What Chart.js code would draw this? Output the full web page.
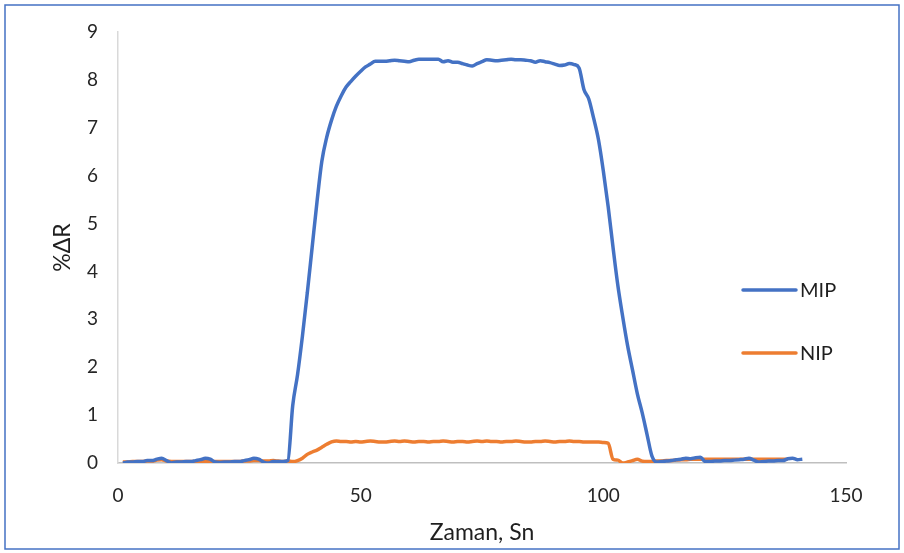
<!DOCTYPE html>
<html>
<head>
<meta charset="utf-8">
<script src="https://cdn.jsdelivr.net/npm/chart.js@4.4.0/dist/chart.umd.min.js"></script>
<style>
html,body{margin:0;padding:0;background:#fff;}
#wrap{position:relative;width:904px;height:553px;}
</style>
</head>
<body>
<div id="wrap"><canvas id="c" width="904" height="553"></canvas></div>
<script>
const seriesNames = ["MIP", "NIP"];
const xTickValues = [0, 50, 100, 150];
const yTickValues = [0, 1, 2, 3, 4, 5, 6, 7, 8, 9];

const mipTime = [];
for (let t = 1; t <= 141; t++) mipTime.push(t);
const nipTime = [];
for (let t = 1; t <= 138; t++) nipTime.push(t);

const mipValues = [
  0.00,0.02,0.02,0.03,0.03,0.05,0.05,0.08,0.10,0.05,
  0.00,0.02,0.02,0.03,0.03,0.05,0.07,0.10,0.08,0.02,
  0.01,0.02,0.02,0.03,0.03,0.05,0.07,0.10,0.08,0.02,
  0.00,0.03,0.03,0.03,0.05,1.20,1.85,2.65,3.55,4.50,
  5.45,6.30,6.80,7.16,7.45,7.67,7.85,7.97,8.08,8.18,
  8.27,8.33,8.39,8.39,8.39,8.40,8.41,8.40,8.39,8.38,
  8.41,8.43,8.43,8.43,8.43,8.43,8.38,8.40,8.37,8.37,
  8.34,8.31,8.29,8.34,8.38,8.42,8.41,8.40,8.41,8.42,
  8.43,8.42,8.42,8.41,8.40,8.37,8.40,8.38,8.36,8.33,
  8.30,8.31,8.34,8.32,8.25,7.80,7.60,7.20,6.75,6.10,
  5.35,4.50,3.70,3.05,2.45,1.95,1.45,1.05,0.60,0.15,
  0.02,0.03,0.04,0.05,0.07,0.08,0.10,0.09,0.11,0.12,
  0.03,0.03,0.04,0.04,0.05,0.05,0.06,0.07,0.08,0.10,
  0.06,0.02,0.03,0.04,0.04,0.05,0.05,0.09,0.10,0.07,
  0.08
];
const nipValues = [
  0.02,0.02,0.03,0.03,0.03,0.04,0.04,0.06,0.07,0.04,
  0.03,0.03,0.03,0.03,0.03,0.03,0.03,0.03,0.03,0.03,
  0.03,0.03,0.03,0.03,0.03,0.04,0.04,0.05,0.05,0.04,
  0.04,0.05,0.04,0.03,0.04,0.03,0.05,0.10,0.18,0.23,
  0.27,0.33,0.39,0.44,0.46,0.45,0.45,0.44,0.45,0.44,
  0.45,0.46,0.45,0.44,0.44,0.45,0.46,0.45,0.46,0.45,
  0.44,0.45,0.45,0.44,0.45,0.45,0.46,0.45,0.44,0.45,
  0.45,0.44,0.45,0.46,0.45,0.46,0.45,0.45,0.44,0.45,
  0.45,0.46,0.45,0.44,0.44,0.45,0.45,0.46,0.45,0.44,
  0.45,0.45,0.46,0.45,0.45,0.44,0.44,0.44,0.44,0.43,
  0.41,0.08,0.06,0.00,0.02,0.05,0.08,0.04,0.03,0.03,
  0.04,0.04,0.05,0.05,0.06,0.07,0.07,0.08,0.08,0.08,
  0.08,0.08,0.08,0.08,0.08,0.08,0.08,0.08,0.08,0.08,
  0.08,0.08,0.08,0.08,0.08,0.08,0.08,0.08
];

const colors = ["#4472C4", "#ED7D31"];
const FONT = "Lato, 'Open Sans', sans-serif";

const mipData = mipTime.map((t, i) => ({x: t, y: mipValues[i]}));
const nipData = nipTime.map((t, i) => ({x: t, y: nipValues[i]}));

const frameAndLegend = {
  id: 'frameAndLegend',
  afterDraw(chart) {
    const ctx = chart.ctx;
    ctx.save();
    ctx.strokeStyle = '#4472C4';
    ctx.lineWidth = 1.5;
    ctx.strokeRect(5, 5, 894, 544);
    const ys = [290, 353];
    ctx.font = "20px " + FONT;
    ctx.textBaseline = 'middle';
    ctx.textAlign = 'left';
    chart.data.datasets.forEach((ds, i) => {
      ctx.strokeStyle = ds.borderColor;
      ctx.lineWidth = 3.5;
      ctx.lineCap = 'round';
      ctx.beginPath();
      ctx.moveTo(743, ys[i]);
      ctx.lineTo(796, ys[i]);
      ctx.stroke();
      ctx.fillStyle = '#1f1f1f';
      ctx.fillText(ds.label, 800, ys[i] + 1);
    });
    ctx.restore();
  }
};

new Chart(document.getElementById('c'), {
  type: 'line',
  data: {
    datasets: [
      {label: seriesNames[0], data: mipData, borderColor: colors[0], backgroundColor: colors[0], borderWidth: 3.5, pointRadius: 0, cubicInterpolationMode: 'monotone', fill: false},
      {label: seriesNames[1], data: nipData, borderColor: colors[1], backgroundColor: colors[1], borderWidth: 3.5, pointRadius: 0, cubicInterpolationMode: 'monotone', fill: false}
    ]
  },
  options: {
    responsive: false,
    animation: false,
    devicePixelRatio: 1,
    layout: {padding: {left: 0, right: 58, top: 32, bottom: 0}},
    plugins: {legend: {display: false}, tooltip: {enabled: false}},
    scales: {
      x: {
        type: 'linear', min: 0, max: 150,
        afterBuildTicks(s) { s.ticks = xTickValues.map(v => ({value: v})); },
        afterFit(s) { s.height = 90; },
        grid: {display: false, drawTicks: false},
        border: {display: true, color: '#BFBFBF', width: 1.5},
        ticks: {padding: 21, color: '#262626', font: {family: FONT, size: 19}},
        title: {display: true, text: 'Zaman, Sn', color: '#1f1f1f', font: {family: FONT, size: 23}, padding: {top: 0, bottom: 7}}
      },
      y: {
        type: 'linear', min: 0, max: 9,
        afterBuildTicks(s) { s.ticks = yTickValues.map(v => ({value: v})); },
        afterFit(s) { s.width = 118; },
        grid: {display: false, drawTicks: false},
        border: {display: true, color: '#D9D9D9', width: 1.5},
        ticks: {padding: 20, color: '#262626', font: {family: FONT, size: 19}},
        title: {display: true, text: '%ΔR', color: '#1f1f1f', font: {family: FONT, size: 23}, padding: {top: 49, bottom: 0}}
      }
    }
  },
  plugins: [frameAndLegend]
});
</script>
</body>
</html>
